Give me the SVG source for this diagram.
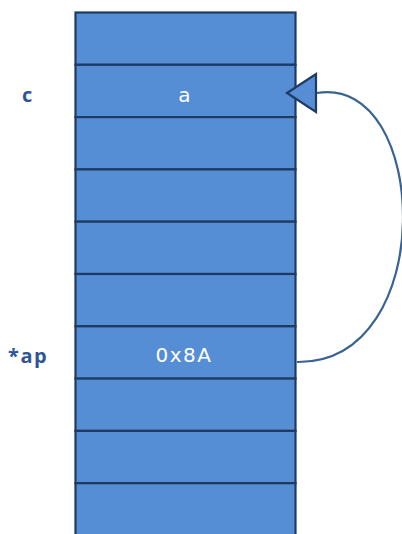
<svg xmlns="http://www.w3.org/2000/svg" width="402" height="534" viewBox="0 0 402 534">
<style>
.cell{fill:#558ED5;stroke:#1F3B64;stroke-width:2.2}
.val{font-family:"DejaVu Sans","Liberation Sans",sans-serif;font-size:20px;fill:#FFFFFF;text-anchor:middle}
.lbl{font-family:"Open Sans","Liberation Sans",sans-serif;font-size:20px;font-weight:bold;fill:#2F5597}
.conn{fill:none;stroke:#3A6395;stroke-width:2.2}
.head{fill:#558ED5;stroke:#1F3B64;stroke-width:2.2;stroke-linejoin:miter}
</style>
<rect width="402" height="534" fill="#FFFFFF"/>
<g id="cell0"><rect class="cell" x="75.5" y="12.5" width="220" height="52.3"/></g>
<g id="cell1"><rect class="cell" x="75.5" y="64.8" width="220" height="52.3"/><text class="val" x="184.5" y="101.5" font-size="25" font-family="Open Sans, Liberation Sans, sans-serif">a</text></g>
<g id="cell2"><rect class="cell" x="75.5" y="117.1" width="220" height="52.3"/></g>
<g id="cell3"><rect class="cell" x="75.5" y="169.4" width="220" height="52.3"/></g>
<g id="cell4"><rect class="cell" x="75.5" y="221.7" width="220" height="52.3"/></g>
<g id="cell5"><rect class="cell" x="75.5" y="274" width="220" height="52.3"/></g>
<g id="cell6"><rect class="cell" x="75.5" y="326.3" width="220" height="52.3"/><text class="val" x="184" y="362" letter-spacing="1.5">0x8A</text></g>
<g id="cell7"><rect class="cell" x="75.5" y="378.6" width="220" height="52.3"/></g>
<g id="cell8"><rect class="cell" x="75.5" y="430.9" width="220" height="52.3"/></g>
<g id="cell9"><rect class="cell" x="75.5" y="483.2" width="220" height="60"/></g>
<g id="label-c"><text class="lbl" x="22" y="102" font-size="22">c</text></g>
<g id="label-ap"><text class="lbl" x="8" y="363" letter-spacing="1.5" font-family="DejaVu Sans, Liberation Sans, sans-serif">*ap</text></g>
<g id="connectors">
<path class="conn" d="M297,362 C440,364 430,74 317,93"/>
<polygon class="head" points="287,93 316,74 316,112"/>
</g>
</svg>
